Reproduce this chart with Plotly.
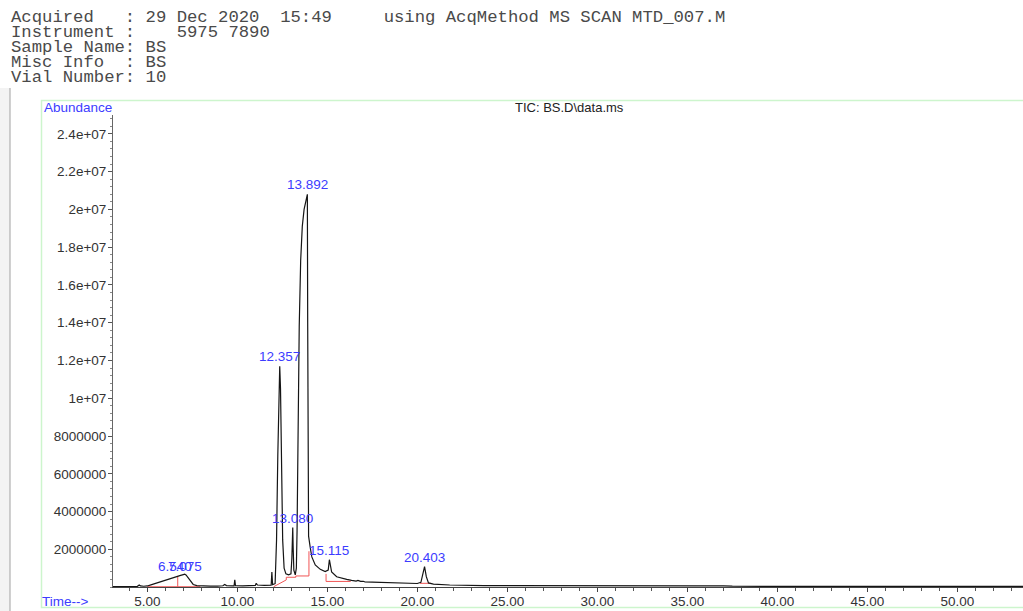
import plotly.graph_objects as go

# ---------------- data ----------------
header_lines = [
    "Acquired   : 29 Dec 2020  15:49     using AcqMethod MS SCAN MTD_007.M",
    "Instrument :    5975 7890",
    "Sample Name: BS",
    "Misc Info  : BS",
    "Vial Number: 10",
]

# TIC trace (retention time in min, abundance)
tic_time = [3.09, 3.40, 3.80, 4.20, 4.45, 4.55, 4.62, 4.80, 5.00, 5.20, 5.45, 5.65,
            5.85, 6.00, 6.10, 6.20, 6.35, 6.54, 6.70, 6.85, 7.00, 7.075, 7.15, 7.25,
            7.40, 7.55, 7.75, 8.00, 8.50, 8.90, 9.20, 9.30, 9.40, 9.75, 9.82, 9.86,
            9.90, 10.30, 10.80, 11.00, 11.05, 11.12, 11.50, 11.88, 11.92, 11.96, 12.10,
            12.18, 12.25, 12.32, 12.357, 12.40, 12.46, 12.52, 12.60, 12.70, 12.85, 12.98,
            13.03, 13.06, 13.08, 13.10, 13.14, 13.22, 13.28, 13.32, 13.36, 13.39, 13.44,
            13.52, 13.61, 13.71, 13.82, 13.892, 13.91, 13.93, 13.96, 14.05, 14.14, 14.33,
            14.61, 14.88, 15.05, 15.115, 15.18, 15.24, 15.52, 15.80, 16.08, 16.35, 16.60,
            16.70, 16.85, 17.00, 17.10, 17.50, 18.10, 18.80, 19.50, 20.00, 20.20, 20.30,
            20.403, 20.50, 20.62, 20.90, 21.80, 23.70, 26.00, 27.40, 28.50, 31.00, 34.00,
            35.50, 37.00, 37.50, 40.00, 45.00, 50.00, 53.65]
tic_abundance = [30000, 32000, 30000, 35000, 40000, 110000, 60000, 45000, 60000, 120000, 200000, 270000,
                 330000, 380000, 420000, 440000, 500000, 560000, 590000, 620000, 660000, 680000, 640000, 500000,
                 280000, 140000, 80000, 60000, 50000, 55000, 70000, 140000, 80000, 70000, 70000, 380000,
                 70000, 60000, 70000, 90000, 200000, 110000, 90000, 100000, 800000, 130000, 180000,
                 2500000, 7000000, 10800000, 11700000, 10500000, 6000000, 2500000, 1000000, 700000, 650000, 700000,
                 1500000, 2700000, 3150000, 2200000, 900000, 650000, 1000000, 3000000, 7000000, 10300000, 13800000,
                 17300000, 19100000, 20000000, 20600000, 20800000, 14000000, 5000000, 2700000, 2100000, 1600000, 1170000,
                 940000, 820000, 900000, 1450000, 950000, 800000, 550000, 470000, 410000, 360000, 320000,
                 350000, 300000, 310000, 270000, 260000, 240000, 220000, 200000, 190000, 250000, 600000,
                 1080000, 550000, 220000, 160000, 110000, 80000, 70000, 85000, 65000, 55000, 55000,
                 60000, 70000, 50000, 40000, 35000, 35000, 35000]

# integration baselines / drop lines (red)
int_time = [5.00, 7.95, None, 6.69, 6.69, None,
            12.02, 12.72, 12.72, 13.25, 13.25, 13.98, 13.98, None,
            14.93, 14.93, 16.30, None, 20.15, 20.75]
int_abundance = [20000, 20000, None, 20000, 590000, None,
                 20000, 380000, 520000, 520000, 590000, 590000, 1900000, None,
                 700000, 300000, 300000, None, 200000, 200000]

# peak labels (time, label height)
peak_times = [6.540, 7.075, 12.357, 13.080, 13.892, 15.115, 20.403]
label_heights = [600000, 600000, 11700000, 3150000, 20800000, 1450000, 1080000]
peak_labels = ["6.540", "7.075", "12.357", "13.080", "13.892", "15.115", "20.403"]

x_tick_vals = [5, 10, 15, 20, 25, 30, 35, 40, 45, 50]
x_tick_text = ["5.00", "10.00", "15.00", "20.00", "25.00", "30.00", "35.00", "40.00", "45.00", "50.00"]
y_tick_vals = [2e6, 4e6, 6e6, 8e6, 1e7, 1.2e7, 1.4e7, 1.6e7, 1.8e7, 2e7, 2.2e7, 2.4e7]
y_tick_text = ["2000000", "4000000", "6000000", "8000000", "1e+07", "1.2e+07", "1.4e+07",
               "1.6e+07", "1.8e+07", "2e+07", "2.2e+07", "2.4e+07"]

title_text = "TIC: BS.D\\data.ms"
y_label = "Abundance"
x_label = "Time-->"

# ---------------- figure ----------------
W, H = 1023, 611


def px(x):
    return x / W


def py(y):
    return 1 - y / H


BLUE = "#3c3cff"
SANS = "Liberation Sans, Arial, sans-serif"

fig = go.Figure()
fig.add_trace(go.Scatter(x=int_time, y=int_abundance, mode="lines",
                         line=dict(color="#f05555", width=1), connectgaps=False,
                         hoverinfo="skip", showlegend=False))
fig.add_trace(go.Scatter(x=tic_time, y=tic_abundance, mode="lines",
                         line=dict(color="#151515", width=1.2),
                         showlegend=False))

annotations = []
for t, v, s in zip(peak_times, label_heights, peak_labels):
    annotations.append(dict(x=t, y=v, xref="x", yref="y", text=s, showarrow=False,
                            xanchor="center", yanchor="bottom", yshift=0,
                            font=dict(family=SANS, size=13.5, color=BLUE)))

for i, line in enumerate(header_lines):
    annotations.append(dict(x=px(9), y=py(17.5 + 15 * i), xref="paper", yref="paper",
                            text=line.replace(" ", "\u00a0"), showarrow=False,
                            xanchor="left", yanchor="middle",
                            font=dict(family="Liberation Mono, monospace", size=17.25,
                                      color="#4a4a4a")))

annotations.append(dict(x=px(42), y=py(107), xref="paper", yref="paper", text=y_label,
                        showarrow=False, xanchor="left", yanchor="middle",
                        font=dict(family=SANS, size=13.5, color=BLUE)))
annotations.append(dict(x=px(40), y=py(601), xref="paper", yref="paper", text=x_label,
                        showarrow=False, xanchor="left", yanchor="middle",
                        font=dict(family=SANS, size=13.5, color=BLUE)))
annotations.append(dict(x=px(569), y=py(107), xref="paper", yref="paper", text=title_text,
                        showarrow=False, xanchor="center", yanchor="middle",
                        font=dict(family=SANS, size=13, color="#222222")))

shapes = [
    # light grey page margin at the left
    dict(type="rect", xref="paper", yref="paper", x0=0, x1=px(10), y0=0, y1=py(88),
         fillcolor="#f3f3f3", line=dict(width=0), layer="below"),
    dict(type="line", xref="paper", yref="paper", x0=px(10), x1=px(10), y0=0, y1=py(88),
         line=dict(color="#b0b0b0", width=1.2)),
    # light green frame
    dict(type="rect", xref="paper", yref="paper", x0=px(41.5), x1=px(1040), y0=py(607.5),
         y1=py(100.5), line=dict(color="#cdf5cd", width=1.5), layer="below"),
]

fig.update_layout(
    width=W, height=H,
    margin=dict(l=0, r=0, t=0, b=0),
    paper_bgcolor="white", plot_bgcolor="white",
    showlegend=False,
    annotations=annotations,
    shapes=shapes,
    xaxis=dict(domain=[px(113), 1.0], range=[3.094, 53.65], showline=True,
               linecolor="#444444", linewidth=1, ticks="outside", ticklen=4, tickwidth=1,
               tickcolor="#444444", tickvals=x_tick_vals, ticktext=x_tick_text,
               tickfont=dict(family=SANS, size=13.5, color="#333333"),
               ticklabelstandoff=-2,
               showgrid=False, zeroline=False, anchor="y",
               minor=dict(ticks="outside", ticklen=3, dtick=1, tick0=0, tickcolor="#555555",
                          showgrid=False)),
    yaxis=dict(domain=[py(587.1), py(115)], range=[0, 2.5e7], showline=True,
               linecolor="#666666", linewidth=1, ticks="outside", ticklen=4, tickwidth=1,
               tickcolor="#555555", tickvals=y_tick_vals, ticktext=y_tick_text,
               tickfont=dict(family=SANS, size=13.5, color="#333333"),
               ticklabelstandoff=-1,
               showgrid=False, zeroline=False, anchor="x",
               minor=dict(ticks="outside", ticklen=2, dtick=4e5, tick0=0, tickcolor="#888888",
                          showgrid=False)),
)

fig.write_html(
    "out.html",
    config={"displayModeBar": False},
    post_script="document.body.style.margin='0';document.body.style.padding='0';"
                "document.body.style.overflow='hidden';",
)
